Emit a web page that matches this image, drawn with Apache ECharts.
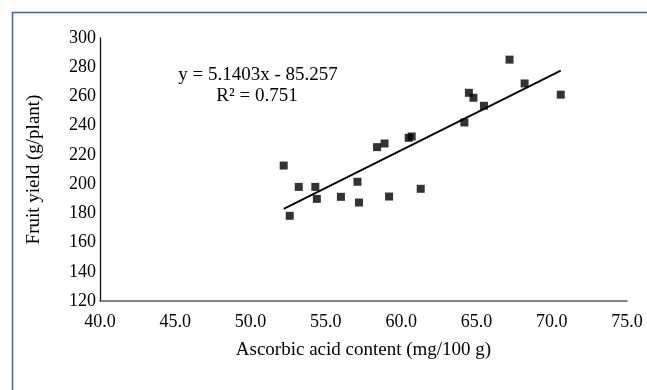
<!DOCTYPE html>
<html>
<head>
<meta charset="utf-8">
<script src="https://cdn.jsdelivr.net/npm/echarts@6/dist/echarts.min.js"></script>
<style>
html,body{margin:0;padding:0;background:#fff;}
#chart{width:647px;height:390px;}
</style>
</head>
<body>
<div id="chart"></div>
<script>
// Data
var ascorbic = [52.2, 52.6, 53.2, 54.3, 54.4, 56.0, 57.1, 57.2, 58.4, 58.9, 59.2, 60.5, 60.7, 61.3, 64.2, 64.5, 64.8, 65.5, 67.2, 68.2, 70.6];
var fruitYield = [212.7, 178.3, 198.1, 198.1, 189.9, 191.3, 201.6, 187.4, 225.3, 227.8, 191.5, 231.7, 232.6, 196.8, 242.2, 262.5, 259.1, 253.6, 285.2, 268.9, 261.2];
var trendSlope = 5.1403;
var trendIntercept = -85.257;
var rSquared = 0.751;
var xTicks = [40, 45, 50, 55, 60, 65, 70, 75];
var yTicks = [120, 140, 160, 180, 200, 220, 240, 260, 280, 300];

var points = ascorbic.map(function (x, i) { return [x, fruitYield[i]]; });
var xMin = Math.min.apply(null, ascorbic), xMax = Math.max.apply(null, ascorbic);
var trend = [[xMin, trendSlope * xMin + trendIntercept], [xMax, trendSlope * xMax + trendIntercept]];

var FONT = '"Liberation Serif", "Times New Roman", serif';
var chart = echarts.init(document.getElementById('chart'), null, {renderer: 'canvas'});
chart.setOption({
  animation: false,
  backgroundColor: '#fff',
  grid: {left: 100, right: 20, top: 38, bottom: 89, containLabel: false},
  xAxis: {
    type: 'value', min: xTicks[0], max: xTicks[xTicks.length - 1], interval: 5,
    name: 'Ascorbic acid content (mg/100 g)', nameLocation: 'middle', nameGap: 40,
    nameTextStyle: {fontFamily: FONT, fontSize: 19, color: '#000'},
    axisLine: {show: true, lineStyle: {color: '#595959', width: 1.5}},
    axisTick: {show: false},
    splitLine: {show: false},
    axisLabel: {fontFamily: FONT, fontSize: 18, color: '#000', margin: 12,
      formatter: function (v) { return v.toFixed(1); }}
  },
  yAxis: {
    type: 'value', min: yTicks[0], max: yTicks[yTicks.length - 1], interval: 20,
    name: 'Fruit yield (g/plant)', nameLocation: 'middle', nameGap: 56,
    nameTextStyle: {fontFamily: FONT, fontSize: 19, color: '#000'},
    axisLine: {show: true, onZero: false, lineStyle: {color: '#111', width: 1.3}},
    axisTick: {show: false},
    splitLine: {show: false},
    axisLabel: {fontFamily: FONT, fontSize: 18, color: '#000', margin: 4}
  },
  series: [
    {
      type: 'line', data: trend, symbol: 'none', silent: true,
      lineStyle: {color: '#000', width: 1.8}, z: 2
    },
    {
      type: 'scatter', data: points, symbol: 'rect', symbolSize: [8, 8],
      itemStyle: {color: '#000'}, z: 3
    }
  ],
  graphic: [
    {type: 'rect', left: 10, top: 10, silent: true,
      shape: {width: 700, height: 500},
      style: {fill: 'none', stroke: '#3a5fc0', lineWidth: 1.5}},
    {type: 'text', x: 258, y: 75, silent: true,
      style: {text: 'y = ' + trendSlope + 'x - ' + Math.abs(trendIntercept), font: '19px ' + FONT,
        fill: '#000', textAlign: 'center', textVerticalAlign: 'middle'}},
    {type: 'text', x: 257, y: 96, silent: true,
      style: {text: 'R² = ' + rSquared, font: '19px ' + FONT,
        fill: '#000', textAlign: 'center', textVerticalAlign: 'middle'}}
  ]
});
</script>
</body>
</html>
